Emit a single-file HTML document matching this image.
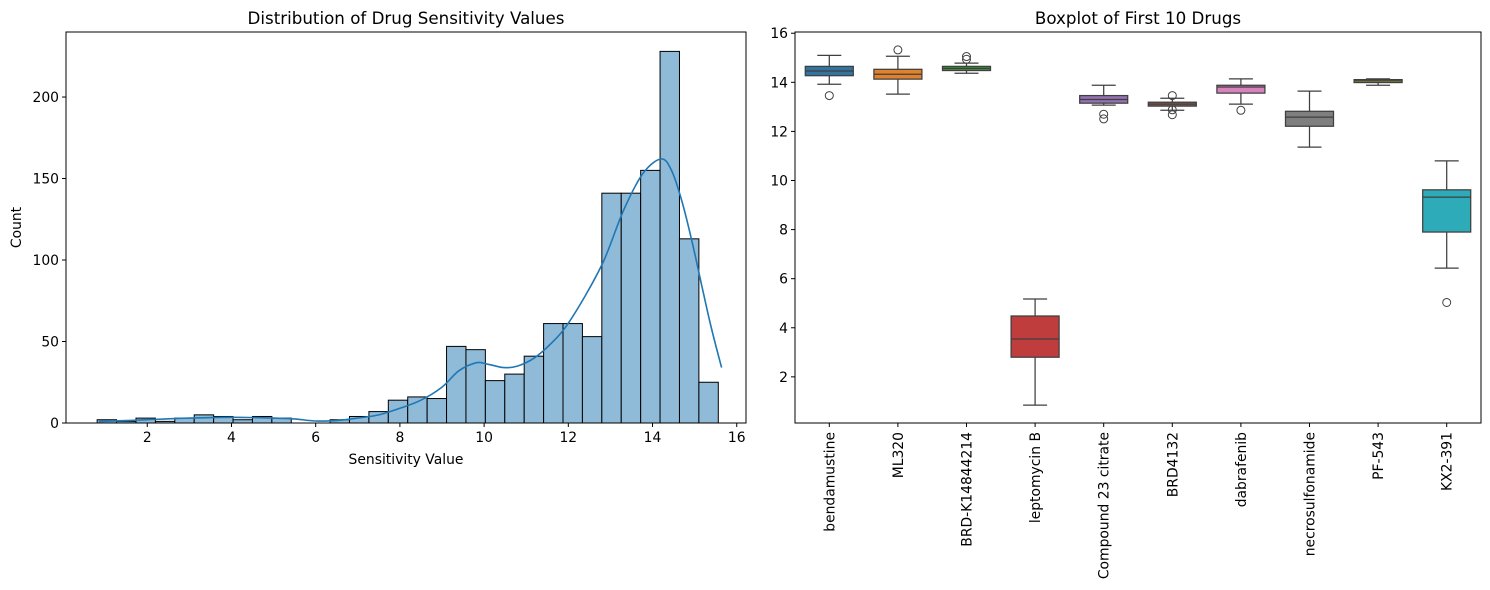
<!DOCTYPE html>
<html><head><meta charset="utf-8"><style>
html,body{margin:0;padding:0;background:#fff;}
svg{display:block;font-family:"DejaVu Sans","Liberation Sans",sans-serif;}
</style></head><body>
<svg id="fig" width="1490" height="590" viewBox="0 0 1490 590" xmlns="http://www.w3.org/2000/svg">
<rect width="1490" height="590" fill="#fff"/>
<g id="left"></g>
<g id="right"></g>
</svg>
<script>
// ---- Histogram data ----
const binStart = 0.81;
const binWidth = 0.461;
const counts = [2,1,3,1,3,5,4,2,4,3,0,0,2,4,7,14,16,15,47,45,26,30,41,61,61,53,141,141,155,228,113,25];
const kdeX = [0.85,1.5,2,3,4,5,5.5,6,6.5,7,7.5,8,8.5,9,9.4,9.82,10.1,10.47,10.8,11.2,11.6,11.94,12.4,12.85,13.32,13.77,14.2,14.45,14.71,14.95,15.18,15.4,15.64];
const kdeY = [1,1.5,2,3,3.5,3,2.5,1.2,1.5,3,5,9,14,22,32,37,36,34,35,40,49,59,78,100,131,153,162,155,135,110,83,58,34];
const histYTicks = [0,50,100,150,200];
const histXTicks = [2,4,6,8,10,12,14,16];

// ---- Boxplot data ----
const drugs = ["bendamustine","ML320","BRD-K14844214","leptomycin B","Compound 23 citrate","BRD4132","dabrafenib","necrosulfonamide","PF-543","KX2-391"];
const whiskLo = [13.92,13.52,14.37,0.85,13.07,12.86,13.11,11.36,13.88,6.43];
const q1 =      [14.27,14.13,14.48,2.80,13.15,13.03,13.56,12.21,13.99,7.90];
const med =     [14.46,14.33,14.57,3.54,13.30,13.11,13.81,12.58,14.06,9.32];
const q3 =      [14.65,14.53,14.65,4.48,13.46,13.19,13.88,12.82,14.11,9.62];
const whiskHi = [15.10,15.06,14.78,5.17,13.88,13.35,14.14,13.64,14.14,10.80];
const outliers = [[13.46],[15.32],[15.05,14.94],[],[12.70,12.51],[13.46,12.88,12.68],[12.86],[],[],[5.03]];
const boxYTicks = [2,4,6,8,10,12,14,16];
const palette = ["#3274a1","#e1812c","#3a923a","#c03d3e","#9372b2","#845b53","#d684bd","#7f7f7f","#a9aa35","#2eabb8"];

const NS = "http://www.w3.org/2000/svg";
function mk(tag, attrs, parent, text){
  const e = document.createElementNS(NS, tag);
  for (const k in attrs) e.setAttribute(k, attrs[k]);
  if (text !== undefined) e.textContent = text;
  parent.appendChild(e);
  return e;
}

// ===== Left panel =====
const L = document.getElementById('left');
const lx0=66, lx1=746, ly0=32, ly1=423;
const xmin=0.07, xmax=16.22, ymaxH=239.9;
const hx = v => lx0 + (v - xmin) / (xmax - xmin) * (lx1 - lx0);
const hy = v => ly1 - v / ymaxH * (ly1 - ly0);

counts.forEach((c,i)=>{
  const a = binStart + i*binWidth;
  const r = mk('rect',{x:hx(a),y:hy(c),width:hx(a+binWidth)-hx(a),height:hy(0)-hy(c),fill:'#8fbbd9',stroke:'#000','stroke-width':1},L);
  
  
});
// smooth Catmull-Rom path through KDE points
const pts = kdeX.map((x,i)=>[hx(x),hy(kdeY[i])]);
let d = 'M'+pts[0][0].toFixed(1)+','+pts[0][1].toFixed(1);
for (let i=0;i<pts.length-1;i++){
  const p0=pts[Math.max(i-1,0)], p1=pts[i], p2=pts[i+1], p3=pts[Math.min(i+2,pts.length-1)];
  const c1=[p1[0]+(p2[0]-p0[0])/6, p1[1]+(p2[1]-p0[1])/6];
  const c2=[p2[0]-(p3[0]-p1[0])/6, p2[1]-(p3[1]-p1[1])/6];
  d += ' C'+c1[0].toFixed(1)+','+c1[1].toFixed(1)+' '+c2[0].toFixed(1)+','+c2[1].toFixed(1)+' '+p2[0].toFixed(1)+','+p2[1].toFixed(1);
}
const kde = mk('path',{d:d,fill:'none',stroke:'#1f77b4','stroke-width':1.6},L);



const lframe = mk('rect',{x:lx0,y:ly0,width:lx1-lx0,height:ly1-ly0,fill:'none',stroke:'#000','stroke-width':1},L);


histYTicks.forEach(t=>{
  mk('line',{x1:lx0-4,x2:lx0,y1:hy(t),y2:hy(t),stroke:'#000'},L);
  const tx = mk('text',{x:lx0-7,y:hy(t)+5,'text-anchor':'end','font-size':13.9},L,String(t));
  
  
});
histXTicks.forEach(t=>{
  mk('line',{x1:hx(t),x2:hx(t),y1:ly1,y2:ly1+4,stroke:'#000'},L);
  const tx = mk('text',{x:hx(t),y:ly1+19,'text-anchor':'middle','font-size':13.9},L,String(t));
  
  
});
const lt = mk('text',{x:(lx0+lx1)/2,y:24,'text-anchor':'middle','font-size':16.7},L,'Distribution of Drug Sensitivity Values');


const lxl = mk('text',{x:(lx0+lx1)/2,y:464,'text-anchor':'middle','font-size':13.9},L,'Sensitivity Value');


const lyl = mk('text',{x:0,y:0,'text-anchor':'middle','font-size':13.9,transform:'translate(21,'+((ly0+ly1)/2)+') rotate(-90)'},L,'Count');



// ===== Right panel =====
const R = document.getElementById('right');
const rx0=795, rx1=1481, ry0=32, ry1=423;
const ymin=0.12, ymax=16.05;
const by = v => ry1 - (v - ymin) / (ymax - ymin) * (ry1 - ry0);
const step = (rx1 - rx0) / drugs.length;
const bx = i => rx0 + step*(i+0.5);
const bw = step*0.7;
const lc = '#3f3f3f';

drugs.forEach((name,i)=>{
  const g = mk('g',{},R);
  
  
  const c = bx(i);
  mk('line',{x1:c,x2:c,y1:by(whiskHi[i]),y2:by(q3[i]),stroke:lc,'stroke-width':1.25},g);
  mk('line',{x1:c,x2:c,y1:by(q1[i]),y2:by(whiskLo[i]),stroke:lc,'stroke-width':1.25},g);
  mk('line',{x1:c-bw/4,x2:c+bw/4,y1:by(whiskHi[i]),y2:by(whiskHi[i]),stroke:lc,'stroke-width':1.25},g);
  mk('line',{x1:c-bw/4,x2:c+bw/4,y1:by(whiskLo[i]),y2:by(whiskLo[i]),stroke:lc,'stroke-width':1.25},g);
  mk('rect',{x:c-bw/2,y:by(q3[i]),width:bw,height:Math.max(by(q1[i])-by(q3[i]),0.5),fill:palette[i],stroke:lc,'stroke-width':1.25},g);
  mk('line',{x1:c-bw/2,x2:c+bw/2,y1:by(med[i]),y2:by(med[i]),stroke:lc,'stroke-width':1.25},g);
  outliers[i].forEach(o=>{
    const p = mk('circle',{cx:c,cy:by(o),r:4,fill:'none',stroke:lc,'stroke-width':1},g);
    
    
  });
  mk('line',{x1:c,x2:c,y1:ry1,y2:ry1+4,stroke:'#000'},R);
  const tx = mk('text',{x:0,y:0,'text-anchor':'end','font-size':13.9,transform:'translate('+(c+5)+','+(ry1+9)+') rotate(-90)'},R,name);
  
  
});
const rframe = mk('rect',{x:rx0,y:ry0,width:rx1-rx0,height:ry1-ry0,fill:'none',stroke:'#000','stroke-width':1},R);


boxYTicks.forEach(t=>{
  mk('line',{x1:rx0-4,x2:rx0,y1:by(t),y2:by(t),stroke:'#000'},R);
  const tx = mk('text',{x:rx0-7,y:by(t)+5,'text-anchor':'end','font-size':13.9},R,String(t));
  
  
});
const rt = mk('text',{x:(rx0+rx1)/2,y:24,'text-anchor':'middle','font-size':16.7},R,'Boxplot of First 10 Drugs');


</script>
</body></html>
